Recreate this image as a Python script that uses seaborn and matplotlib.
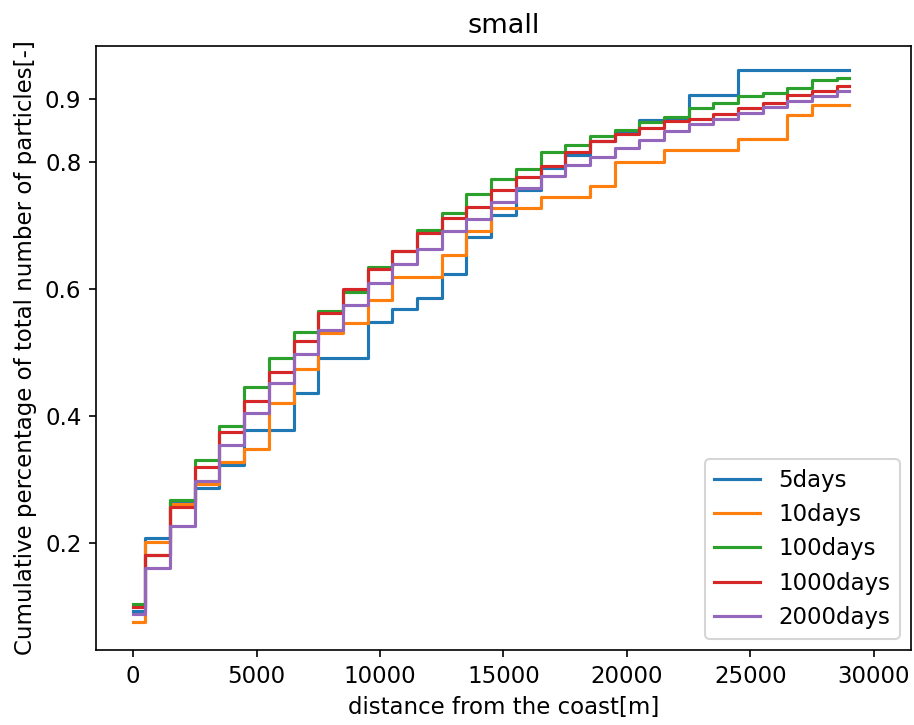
import pandas as pd
import matplotlib
matplotlib.use("Agg")
import matplotlib.pyplot as plt
import seaborn as sns

# distance bins [m]
distance = list(range(0, 30000, 1000))

# cumulative share of particles per run
days_5 = [0.093, 0.207, 0.264, 0.286, 0.323, 0.378, 0.378, 0.436, 0.491, 0.491,
          0.549, 0.568, 0.586, 0.624, 0.682, 0.717, 0.756, 0.791, 0.812, 0.833,
          0.849, 0.867, 0.869, 0.906, 0.906, 0.946, 0.946, 0.946, 0.946, 0.946]
days_10 = [0.075, 0.202, 0.262, 0.293, 0.328, 0.348, 0.420, 0.474, 0.531, 0.547,
           0.583, 0.619, 0.619, 0.654, 0.691, 0.728, 0.728, 0.746, 0.746, 0.763,
           0.800, 0.800, 0.819, 0.819, 0.819, 0.837, 0.837, 0.874, 0.891, 0.891]
days_100 = [0.104, 0.181, 0.268, 0.331, 0.385, 0.445, 0.491, 0.533, 0.566, 0.596,
            0.635, 0.661, 0.694, 0.720, 0.750, 0.774, 0.789, 0.816, 0.828, 0.841,
            0.851, 0.864, 0.872, 0.886, 0.894, 0.905, 0.909, 0.917, 0.930, 0.933]
days_1000 = [0.099, 0.181, 0.256, 0.319, 0.375, 0.424, 0.470, 0.519, 0.563, 0.600,
             0.632, 0.661, 0.689, 0.712, 0.730, 0.756, 0.777, 0.795, 0.816, 0.834,
             0.845, 0.854, 0.866, 0.869, 0.876, 0.885, 0.894, 0.906, 0.913, 0.920]
days_2000 = [0.088, 0.161, 0.227, 0.297, 0.355, 0.405, 0.452, 0.498, 0.535, 0.575,
             0.609, 0.640, 0.663, 0.692, 0.711, 0.738, 0.759, 0.779, 0.796, 0.808,
             0.823, 0.836, 0.849, 0.861, 0.868, 0.878, 0.887, 0.896, 0.904, 0.912]

runs = ["5days", "10days", "100days", "1000days", "2000days"]
series = [days_5, days_10, days_100, days_1000, days_2000]
yticks = [0.2, 0.4, 0.6, 0.8, 0.9]

# long format for seaborn
df = pd.concat(
    [pd.DataFrame({"distance": distance, "share": s, "run": r})
     for r, s in zip(runs, series)],
    ignore_index=True,
)

plt.rcParams["font.size"] = 11

fig = plt.figure(figsize=(914 / 150, 725 / 150), dpi=150)
ax = fig.add_axes([0.105, 0.1034, 0.8917, 0.8336])

sns.lineplot(
    data=df,
    x="distance",
    y="share",
    hue="run",
    hue_order=runs,
    palette="tab10",
    estimator=None,
    drawstyle="steps-mid",
    linewidth=1.5,
    ax=ax,
)

ax.set_xlim(-1500, 31500)
ax.set_ylim(0.031, 0.984)
ax.set_yticks(yticks)
ax.set_yticklabels([str(t) for t in yticks])

ax.set_title("small", fontsize=13)
ax.set_xlabel("distance from the coast[m]")
ax.set_ylabel("Cumulative percentage of total number of particles[-]")

handles, labels = ax.get_legend_handles_labels()
ax.legend(handles, labels, loc="lower right", fontsize=11)

fig.savefig("out.png", dpi=150)
